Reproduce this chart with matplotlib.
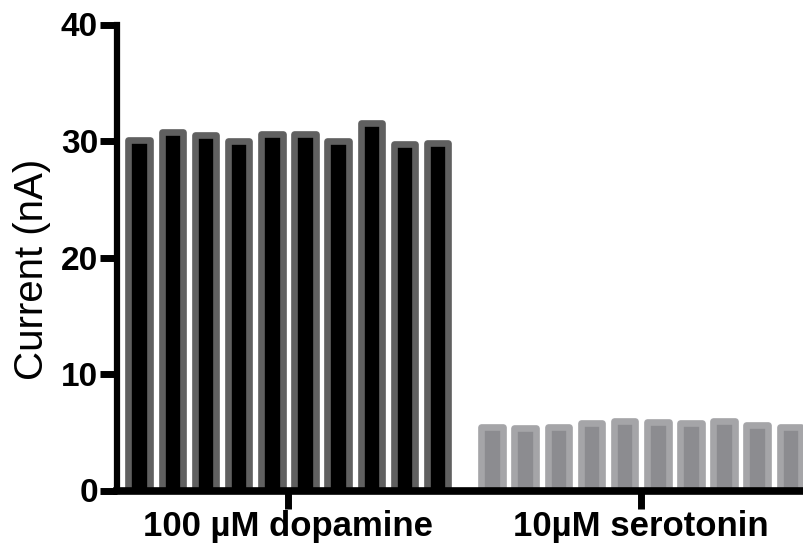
import matplotlib
matplotlib.use("Agg")
import matplotlib.pyplot as plt
import numpy as np

categories = ["100 µM dopamine", "10µM serotonin"]
dopamine = [30.06, 30.78, 30.48, 30.00, 30.63, 30.57, 30.00, 31.55, 29.71, 29.83]
serotonin = [5.48, 5.33, 5.44, 5.76, 5.99, 5.90, 5.76, 5.99, 5.61, 5.48]
y_ticks = [0, 10, 20, 30, 40]
y_label = "Current (nA)"

fig = plt.figure(figsize=(8.04, 5.47), dpi=100)
ax = fig.add_axes([117/804, 56.5/547, 687/804, 466/547])

group_gap = 10.64
bar_w = 0.652
lw = 4.8
x_d = np.arange(len(dopamine))
x_s = np.arange(len(serotonin)) + group_gap

ax.bar(x_d, dopamine, width=bar_w, color="#000000", edgecolor="#606060",
       linewidth=lw, joinstyle="round", zorder=2)
ax.bar(x_s, serotonin, width=bar_w, color="#8c8c90", edgecolor="#a5a5a8",
       linewidth=lw, joinstyle="round", zorder=2)

ax.set_xlim(-0.67, 20.05)
ax.set_ylim(0, 40)

ax.set_yticks(y_ticks)
ax.set_yticklabels([str(t) for t in y_ticks], fontfamily="Liberation Sans",
                   fontweight="bold", fontsize=24)
centers = [x_d.mean(), x_s.mean()]
ax.set_xticks(centers)
ax.set_xticklabels(categories, fontfamily="Liberation Sans",
                   fontweight="bold", fontsize=25)

for s in ["top", "right"]:
    ax.spines[s].set_visible(False)
ax.spines["left"].set_linewidth(4.5)
ax.spines["bottom"].set_linewidth(5.5)
for s in ["left", "bottom"]:
    ax.spines[s].set_zorder(5)

ax.tick_params(axis="y", length=12.2, width=5, pad=1.5, color="black")
ax.tick_params(axis="x", length=12.6, width=5, pad=1.5, color="black")

ax.set_ylabel(y_label, fontfamily="Liberation Sans", fontsize=29)
ax.yaxis.label.set_verticalalignment("center")
ax.yaxis.set_label_coords((32-117)/687, (490.5-269)/466)

fig.savefig("out.png", dpi=100)
